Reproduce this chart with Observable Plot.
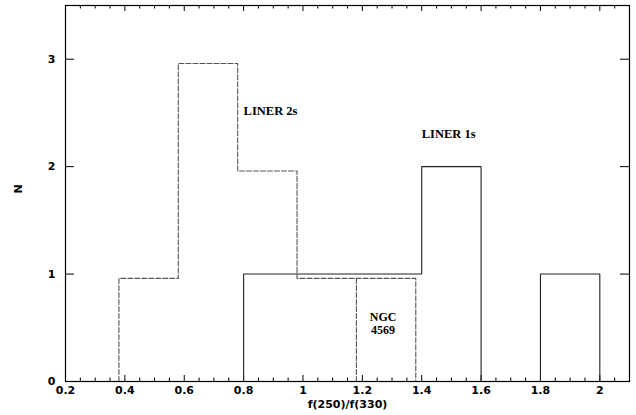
<!DOCTYPE html>
<html>
<head>
<meta charset="utf-8">
<script src="https://cdn.jsdelivr.net/npm/d3@7"></script>
<script src="https://cdn.jsdelivr.net/npm/@observablehq/plot@0.6"></script>
<style>
  html, body { margin: 0; padding: 0; background: #fff; }
</style>
</head>
<body>
<div id="chart"></div>
<script>
// ---- data ----
const liner2Edges = [0.4, 0.6, 0.8, 1.0, 1.2, 1.4];
const liner2Counts = [1, 3, 2, 1, 1];
const ngcBinEdge = 1.2;           // NGC 4569 bin (1.2-1.4) separated
const liner1Edges = [0.8, 1.0, 1.2, 1.4, 1.6, 1.8, 2.0];
const liner1Counts = [1, 1, 1, 2, 0, 1];

const xMajorTicks = [0.2, 0.4, 0.6, 0.8, 1.0, 1.2, 1.4, 1.6, 1.8, 2.0];
const xTickLabels = ["0.2", "0.4", "0.6", "0.8", "1", "1.2", "1.4", "1.6", "1.8", "2"];
const yMajorTicks = [0, 1, 2, 3];
const yTickLabels = ["0", "1", "2", "3"];

const leftLabels = [
  {text: "LINER 2s", x: 0.80, y: 2.52},
  {text: "LINER 1s", x: 1.40, y: 2.30}
];
const centerLabels = [
  {text: "NGC\n4569", x: 1.27, y: 0.54}
];

// display offset of dashed histogram (so it doesn't overlap solid one)
const dashOffX = -0.02, dashOffY = -0.04;

// ---- helpers ----
function outline(edges, counts, ox = 0, oy = 0) {
  const pts = [];
  const n = counts.length;
  pts.push({x: edges[0] + ox, y: 0});
  for (let i = 0; i < n; i++) {
    const c = counts[i] === 0 ? 0 : counts[i] + oy;
    pts.push({x: edges[i] + ox, y: c});
    pts.push({x: edges[i + 1] + ox, y: c});
  }
  pts.push({x: edges[n] + ox, y: 0});
  return pts;
}

const liner2 = outline(liner2Edges, liner2Counts, dashOffX, dashOffY);
const liner1 = outline(liner1Edges, liner1Counts);
const ngcIdx = liner2Edges.indexOf(ngcBinEdge);
const ngcLine = [
  {x: ngcBinEdge + dashOffX, y: 0},
  {x: ngcBinEdge + dashOffX, y: liner2Counts[ngcIdx] + dashOffY}
];

const xDomain = [0.2, 2.1];
const yDomain = [0, 3.5];
const xMinorTicks = d3.range(0.25, 2.1, 0.05).filter(v => Math.abs(Math.round(v * 5) - v * 5) > 1e-6);

// tick lengths in data units
const tXmaj = 6 / 107.2, tXmin = 3.5 / 107.2, tY = 9 / 297;

const xLabelMap = new Map(xMajorTicks.map((v, i) => [v, xTickLabels[i]]));
const yLabelMap = new Map(yMajorTicks.map((v, i) => [v, yTickLabels[i]]));

const tickFont = "'DejaVu Sans', 'Liberation Sans', Arial, sans-serif";
const serif = "'Liberation Serif', 'DejaVu Serif', serif";

const chart = Plot.plot({
  width: 636,
  height: 415,
  marginLeft: 65,
  marginRight: 7,
  marginTop: 5,
  marginBottom: 34,
  style: {background: "#fff", fontFamily: tickFont, fontSize: "11px", color: "#000"},
  x: {domain: xDomain, ticks: xMajorTicks, tickSize: 0, tickPadding: 5, label: null,
      tickFormat: d => xLabelMap.get(d)},
  y: {domain: yDomain, ticks: yMajorTicks, tickSize: 0, tickPadding: 10, label: null,
      tickFormat: d => yLabelMap.get(d)},
  marks: [
    // ticks bottom/top
    Plot.ruleX(xMajorTicks, {x: d => d, y1: 0, y2: tXmaj, stroke: "#000"}),
    Plot.ruleX(xMinorTicks, {x: d => d, y1: 0, y2: tXmin, stroke: "#000"}),
    Plot.ruleX(xMajorTicks, {x: d => d, y1: yDomain[1], y2: yDomain[1] - tXmaj, stroke: "#000"}),
    Plot.ruleX(xMinorTicks, {x: d => d, y1: yDomain[1], y2: yDomain[1] - tXmin, stroke: "#000"}),
    // ticks left/right
    Plot.ruleY(yMajorTicks, {y: d => d, x1: xDomain[0], x2: xDomain[0] + tY, stroke: "#000"}),
    Plot.ruleY(yMajorTicks, {y: d => d, x1: xDomain[1], x2: xDomain[1] - tY, stroke: "#000"}),
    // histograms
    Plot.line(liner2, {x: "x", y: "y", stroke: "#555", strokeWidth: 1.1, strokeDasharray: "5,2"}),
    Plot.line(ngcLine, {x: "x", y: "y", stroke: "#555", strokeWidth: 1.1, strokeDasharray: "5,2"}),
    Plot.line(liner1, {x: "x", y: "y", stroke: "#222", strokeWidth: 1.1}),
    // annotations
    Plot.text(leftLabels, {x: "x", y: "y", text: "text", textAnchor: "start",
      fontFamily: serif, fontWeight: "bold", fontSize: 12.5, fill: "#000"}),
    Plot.text(centerLabels, {x: "x", y: "y", text: "text", textAnchor: "middle", lineHeight: 1.1,
      fontFamily: serif, fontWeight: "bold", fontSize: 12, fill: "#000"}),
    // axis labels
    Plot.text(["f(250)/f(330)"], {frameAnchor: "bottom", dy: 26.5, text: d => d,
      fontFamily: tickFont, fontWeight: "bold", fontSize: 11, fill: "#000"}),
    Plot.text(["N"], {frameAnchor: "left", dx: -47, rotate: -90, text: d => d,
      fontFamily: tickFont, fontWeight: "bold", fontSize: 11, fill: "#000"}),
    Plot.frame({stroke: "#000", strokeWidth: 1.2})
  ]
});
chart.setAttribute("font-weight", "bold");
document.getElementById("chart").appendChild(chart);
</script>
</body>
</html>
